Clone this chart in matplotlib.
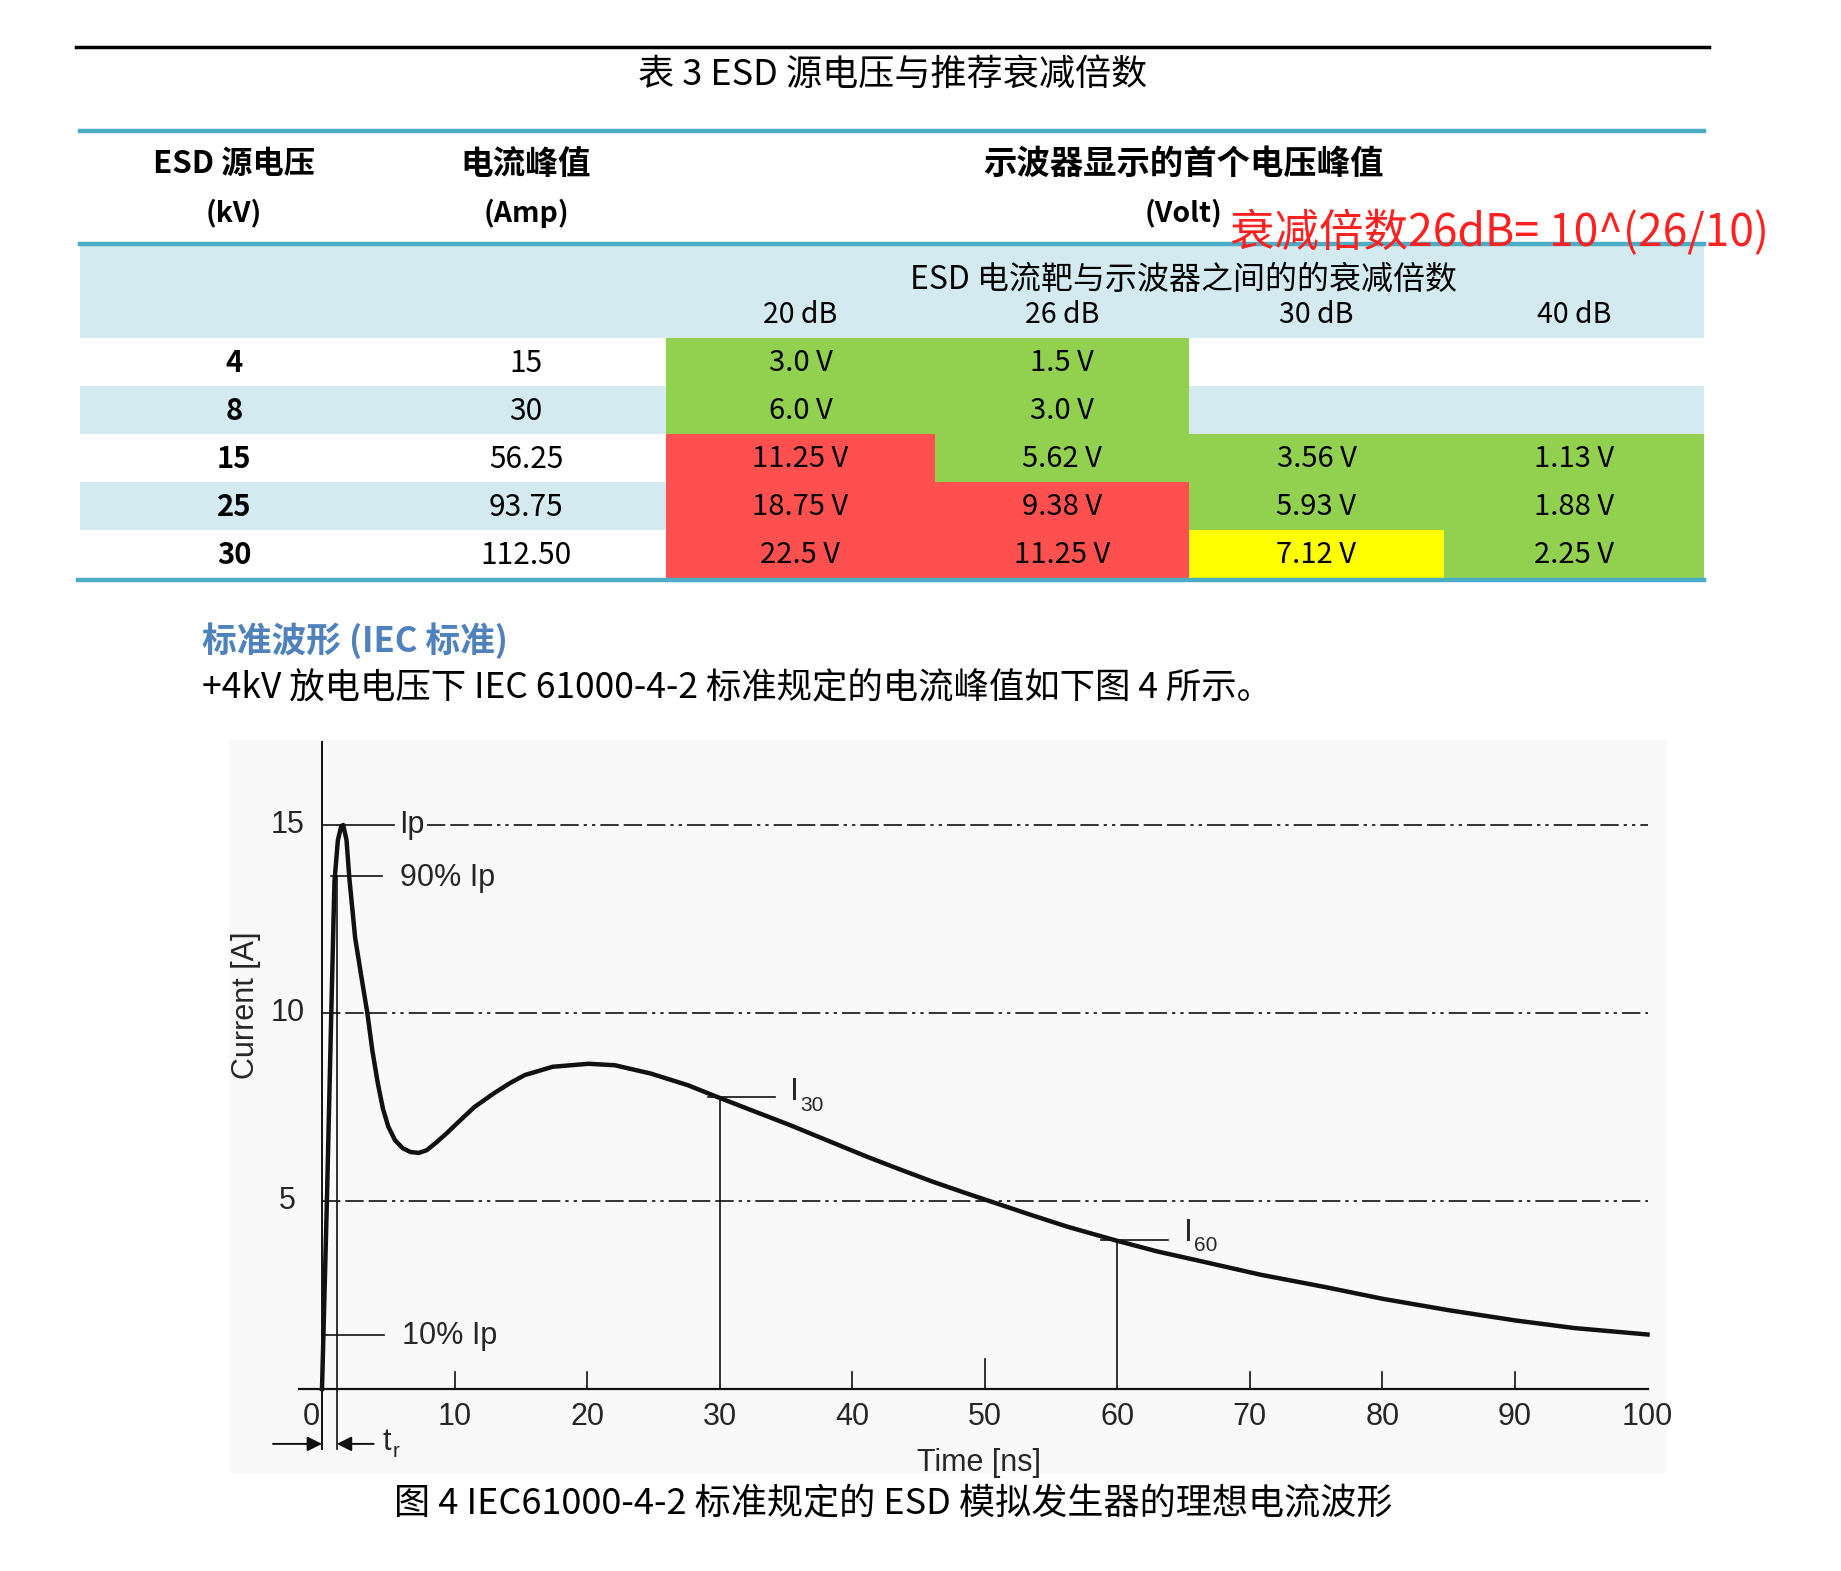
import matplotlib
matplotlib.use("Agg")
import matplotlib.pyplot as plt
from matplotlib.patches import Rectangle

plt.rcParams['font.family'] = ['Noto Sans CJK SC', 'DejaVu Sans']

# ---- table data ----
src_kv = ["4", "8", "15", "25", "30"]
peak_amp = ["15", "30", "56.25", "93.75", "112.50"]
db_cols = ["20 dB", "26 dB", "30 dB", "40 dB"]
volts = [
    ["3.0 V", "1.5 V", "", ""],
    ["6.0 V", "3.0 V", "", ""],
    ["11.25 V", "5.62 V", "3.56 V", "1.13 V"],
    ["18.75 V", "9.38 V", "5.93 V", "1.88 V"],
    ["22.5 V", "11.25 V", "7.12 V", "2.25 V"],
]
# g = ok, r = too high, y = borderline, "" = no fill
cell_state = [
    ["g", "g", "", ""],
    ["g", "g", "", ""],
    ["r", "g", "g", "g"],
    ["r", "r", "g", "g"],
    ["r", "r", "y", "g"],
]

# ---- waveform ----
t_ns = [0, 0.15, 0.37, 0.7, 0.94, 1.2, 1.45, 1.6, 1.85, 2.06, 2.5, 3.0, 3.42,
        3.8, 4.2, 4.6, 5.0, 5.5, 6.1, 6.7, 7.3, 7.9, 8.6, 9.4, 10.2, 11.5,
        12.95, 14.2, 15.3, 17.4, 20.1, 22.1, 24.8, 27.6, 29.8, 32.5, 35.3,
        38.2, 41.1, 43.6, 46.1, 48.4, 50.6, 53.4, 56.2, 60.0, 63.0, 66.3,
        70.8, 75.7, 80.0, 85.1, 90.1, 94.5, 100.0]
i_amp = [0, 2.0, 5.0, 10.0, 13.5, 14.6, 14.97, 15.0, 14.6, 13.6, 12.0, 10.9, 10.0,
         9.0, 8.15, 7.45, 6.98, 6.62, 6.4, 6.3, 6.28, 6.35, 6.55, 6.8, 7.07, 7.5,
         7.86, 8.14, 8.35, 8.57, 8.65, 8.61, 8.39, 8.08, 7.77, 7.4, 7.02,
         6.6, 6.18, 5.84, 5.51, 5.23, 4.97, 4.64, 4.32, 3.94, 3.66, 3.4,
         3.04, 2.71, 2.40, 2.09, 1.82, 1.62, 1.45]
x_ticks = [10, 20, 40, 50, 70, 80, 90]
x_labels = [0, 10, 20, 30, 40, 50, 60, 70, 80, 90, 100]
y_labels = [5, 10, 15]
i_30 = 7.77
i_60 = 3.96

W, H = 1841, 1571
fig = plt.figure(figsize=(W / 100, H / 100), dpi=100)
fig.patch.set_facecolor("white")

page = fig.add_axes([0, 0, 1, 1])
page.set_xlim(0, W)
page.set_ylim(H, 0)
page.axis("off")

teal = "#4BACC6"
band = "#D3EAF1"
fills = {"g": "#92D050", "r": "#FF5050", "y": "#FFFF00"}

# title + rules
page.plot([76, 1709], [47, 47], color="black", lw=2.5)
page.text(893, 75, "表 3 ESD 源电压与推荐衰减倍数", ha="center", va="center", fontsize=26)
page.plot([80, 1704], [131, 131], color=teal, lw=3.2)

# header
page.text(234, 164, "ESD 源电压", ha="center", va="center", fontsize=22.5, fontweight="bold")
page.text(526, 164, "电流峰值", ha="center", va="center", fontsize=23.5, fontweight="bold")
page.text(1184, 164, "示波器显示的首个电压峰值", ha="center", va="center", fontsize=24, fontweight="bold")
page.text(234, 213, "(kV)", ha="center", va="center", fontsize=20.5, fontweight="bold")
page.text(526, 213, "(Amp)", ha="center", va="center", fontsize=20.5, fontweight="bold")
page.text(1184, 213, "(Volt)", ha="center", va="center", fontsize=20.5, fontweight="bold")

page.add_patch(Rectangle((80, 244), 1624, 94, color=band, lw=0))
page.plot([80, 1704], [244, 244], color=teal, lw=3.2)
page.text(1230, 233, "衰减倍数26dB= 10^(26/10)", ha="left", va="center",
          fontsize=32, color="#FF2020")
page.text(1184, 280, "ESD 电流靶与示波器之间的的衰减倍数", ha="center", va="center", fontsize=23)

col_edges = [666, 935, 1189, 1444, 1704]
col_mid = [(col_edges[k] + col_edges[k + 1]) / 2 for k in range(4)]
for k, lab in enumerate(db_cols):
    page.text(col_mid[k], 315, lab, ha="center", va="center", fontsize=20.5)

row_top = 338
row_h = 48.1
for r in range(len(src_kv)):
    y0 = row_top + r * row_h
    yc = y0 + row_h / 2 + 1
    if r % 2 == 1:
        page.add_patch(Rectangle((80, y0), 1624, row_h, color=band, lw=0))
    for k in range(4):
        st = cell_state[r][k]
        if st:
            page.add_patch(Rectangle((col_edges[k], y0), col_edges[k + 1] - col_edges[k],
                                     row_h, color=fills[st], lw=0))
        page.text(col_mid[k], yc, volts[r][k], ha="center", va="center", fontsize=21)
    page.text(234, yc, src_kv[r], ha="center", va="center", fontsize=21, fontweight="bold")
    page.text(526, yc, peak_amp[r], ha="center", va="center", fontsize=21.5)
page.plot([78, 1704], [580, 580], color=teal, lw=3.2)

# section text
page.text(202, 641, "标准波形 (IEC 标准)", ha="left", va="center", fontsize=25,
          fontweight="bold", color="#4F81BD")
page.text(202, 688, "+4kV 放电电压下 IEC 61000-4-2 标准规定的电流峰值如下图 4 所示。",
          ha="left", va="center", fontsize=25.5)

# chart background
page.add_patch(Rectangle((229, 740), 1438, 733, color="#F9F9F9", lw=0))
page.text(893, 1504, "图 4 IEC61000-4-2 标准规定的 ESD 模拟发生器的理想电流波形",
          ha="center", va="center", fontsize=26)

# ---- chart ----
x0, sx = 322, 13.255
y0p, sy = 1389, 37.6
ax = fig.add_axes([(x0 - 7 * sx) / W, (H - (y0p + 3 * sy)) / H, 112 * sx / W, 21 * sy / H])
ax.set_xlim(-7, 105)
ax.set_ylim(-3, 18)
ax.axis("off")
ax.patch.set_alpha(0)

ink = "#111111"
txt = "#262626"
cf = "Liberation Sans"
fs = 22
dd = (0, (11, 3, 11, 3, 11, 3, 2, 3, 2, 3))

ax.plot([-1.7, 100], [0, 0], color=ink, lw=1.6, clip_on=False)
ax.plot([0, 0], [-1.6, 17.2], color=ink, lw=1.4, clip_on=False)
ax.plot([1.12, 1.12], [-1.6, 13.65], color=ink, lw=1.2)

# reference levels
ax.plot([0, 5.4], [15, 15], color=ink, lw=1.2)
ax.plot([7.9, 100], [15, 15], color=ink, lw=1.2, linestyle=dd)
ax.plot([0, 100], [10, 10], color=ink, lw=1.2, linestyle=dd)
ax.plot([0, 100], [5, 5], color=ink, lw=1.2, linestyle=dd)
ax.plot([0.65, 4.5], [13.65, 13.65], color=ink, lw=1.2)
ax.plot([0, 4.7], [1.44, 1.44], color=ink, lw=1.2)

for t in x_ticks:
    ax.plot([t, t], [0, 0.8 if t == 50 else 0.45], color=ink, lw=1.2)
ax.plot([30, 30], [0, i_30], color=ink, lw=1.2)
ax.plot([29.1, 34.2], [i_30, i_30], color=ink, lw=1.2)
ax.plot([60, 60], [0, i_60], color=ink, lw=1.2)
ax.plot([58.8, 63.8], [i_60, i_60], color=ink, lw=1.2)

ax.plot(t_ns, i_amp, color=ink, lw=3.2, solid_joinstyle="round", clip_on=False)

ax.text(5.8, 15, "Ip", ha="left", va="center", fontsize=fs, family=cf, color=txt)
ax.text(5.9, 13.6, "90% Ip", ha="left", va="center", fontsize=fs, family=cf, color=txt)
ax.text(6.0, 1.4, "10% Ip", ha="left", va="center", fontsize=fs, family=cf, color=txt)
ax.text(35.3, 7.9, "I", ha="left", va="center", fontsize=23, family=cf, color=txt)
ax.text(36.1, 7.55, "30", ha="left", va="center", fontsize=15, family=cf, color=txt)
ax.text(65.0, 4.16, "I", ha="left", va="center", fontsize=23, family=cf, color=txt)
ax.text(65.8, 3.81, "60", ha="left", va="center", fontsize=15, family=cf, color=txt)

for v in y_labels:
    ax.text(-2.6, v, str(v), ha="center", va="center", fontsize=fs, family=cf, color=txt)
for v in x_labels:
    ax.text(v if v else -0.8, -0.75, str(v), ha="center", va="center", fontsize=fs, family=cf, color=txt)
ax.text(-5.7, 10.2, "Current [A]", rotation=90, ha="center", va="center", fontsize=fs,
        family=cf, color=txt)
ax.text(49.6, -1.97, "Time [ns]", ha="center", va="center", fontsize=fs, family=cf, color=txt)

arr = dict(arrowstyle="-|>", color=ink, lw=1.4, mutation_scale=22, shrinkA=0, shrinkB=0)
ax.annotate("", xy=(0, -1.46), xytext=(-3.7, -1.46), arrowprops=arr, annotation_clip=False)
ax.annotate("", xy=(1.12, -1.46), xytext=(3.9, -1.46), arrowprops=arr, annotation_clip=False)
ax.text(4.6, -1.4, "t", ha="left", va="center", fontsize=fs, family=cf, color=txt)
ax.text(5.3, -1.65, "r", ha="left", va="center", fontsize=15, family=cf, color=txt)

fig.savefig("out.png", dpi=100)
